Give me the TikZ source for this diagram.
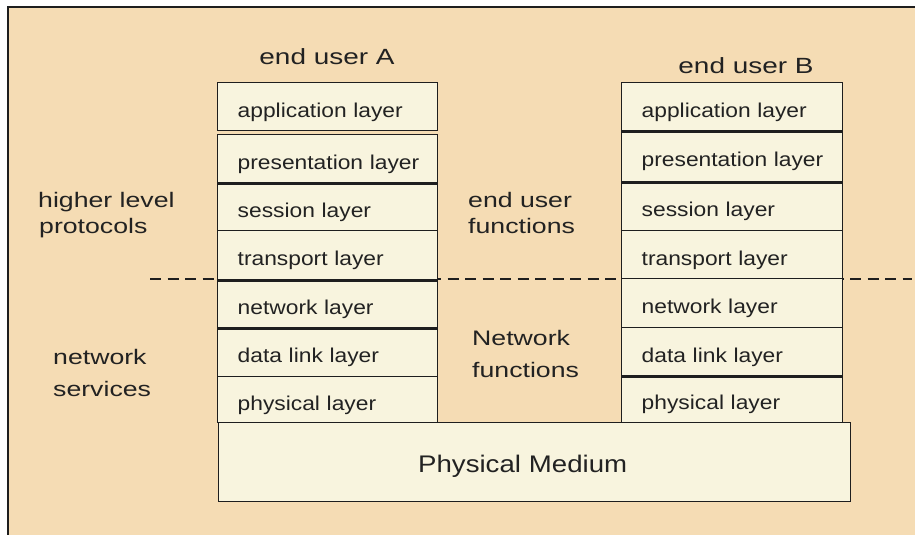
\documentclass[tikz,border=0pt]{standalone}
\usepackage{fontspec}
\setmainfont{Liberation Sans}
\newfontfamily\layerfont{Liberation Sans}[FakeStretch=1.14]
\newfontfamily\labfont{Liberation Sans}[FakeStretch=1.27]
\newfontfamily\medfont{Liberation Sans}[FakeStretch=1.15]
\definecolor{bgc}{HTML}{F5DCB4}
\definecolor{boxc}{HTML}{F8F4DE}
\definecolor{linec}{HTML}{1E1E1E}
\definecolor{txtc}{HTML}{222222}
\begin{document}
\begin{tikzpicture}[x=1pt,y=-1pt,
  layerbox/.style={draw=linec, line width=1.4pt, fill=boxc, anchor=north west,
    inner xsep=8pt, inner ysep=0pt, text width=#1, align=left,
    execute at begin node={\hspace*{12pt}},
    text height=21pt, text depth=0pt, text=txtc,
    font=\layerfont\fontsize{20}{24}\selectfont},
  layerbox/.default=204pt,
  sidelabel/.style={anchor=base west, inner sep=0pt, text=txtc,
    font=\labfont\fontsize{21}{25}\selectfont},
  titlelabel/.style={anchor=base, inner sep=0pt, text=txtc,
    font=\labfont\fontsize{22}{26}\selectfont},
  sepline/.style={draw=linec, line width=2.6pt},
  dashline/.style={draw=linec, line width=1.5pt, dash pattern=on 11pt off 6.5pt}
]
\useasboundingbox (0,0) rectangle (915,535);
\fill[white] (0,0) rectangle (915,535);
\fill[bgc] (8,7) rectangle (915,535);
\draw[linec, line width=2pt] (8,535) -- (8,7) -- (915,7);

% dashed divider
\coordinate (dl) at (150,279);
\coordinate (dr) at (912,279);
\draw[dashline] (dl) -- (dr);

% titles
\node[titlelabel] (tA) at (327,65) {end user A};
\node[titlelabel] (tB) at (746,74) {end user B};

% stack A
\node[layerbox, minimum width=220pt, minimum height=48pt] (a1) at (217,82)  {application layer};
\node[layerbox, minimum width=220pt, minimum height=48pt] (a2) at (217,134) {presentation layer};
\node[layerbox, minimum width=220pt, minimum height=48pt] (a3) at (217,182) {session layer};
\node[layerbox, minimum width=220pt, minimum height=49pt] (a4) at (217,230) {transport layer};
\node[layerbox, minimum width=220pt, minimum height=48pt] (a5) at (217,279) {network layer};
\node[layerbox, minimum width=220pt, minimum height=49pt] (a6) at (217,327) {data link layer};
\node[layerbox, minimum width=220pt, minimum height=46pt] (a7) at (217,376) {physical layer};

% stack B
\node[layerbox=205pt, minimum width=221pt, minimum height=48pt] (b1) at (621,82)  {application layer};
\node[layerbox=205pt, minimum width=221pt, minimum height=51pt] (b2) at (621,130) {presentation layer};
\node[layerbox=205pt, minimum width=221pt, minimum height=49pt] (b3) at (621,181) {session layer};
\node[layerbox=205pt, minimum width=221pt, minimum height=48pt] (b4) at (621,230) {transport layer};
\node[layerbox=205pt, minimum width=221pt, minimum height=49pt] (b5) at (621,278) {network layer};
\node[layerbox=205pt, minimum width=221pt, minimum height=48pt] (b6) at (621,327) {data link layer};
\node[layerbox=205pt, minimum width=221pt, minimum height=47pt] (b7) at (621,375) {physical layer};

% heavier separators as printed
\draw[sepline] (a2.south west) -- (a2.south east);
\draw[sepline] (a4.south west) -- (a4.south east);
\draw[sepline] (a5.south west) -- (a5.south east);
\draw[sepline] (b1.south west) -- (b1.south east);
\draw[sepline] (b2.south west) -- (b2.south east);
\draw[sepline] (b6.south west) -- (b6.south east);

% physical medium
\node[draw=linec, line width=1.4pt, fill=boxc, anchor=north west,
  minimum width=632pt, minimum height=79pt, inner sep=0pt,
  text height=21pt, text depth=0pt, text width=600pt, align=center, text=txtc,
  font=\medfont\fontsize{24}{28}\selectfont] (m) at (218,422) {Physical Medium\hspace*{24pt}};

% side labels
\node[sidelabel] (hl1) at (38,207) {higher level};
\node[sidelabel] (hl2) at (39,233) {protocols};
\node[sidelabel] (ns1) at (53,364) {network};
\node[sidelabel] (ns2) at (53,396) {services};
\node[sidelabel] (ef1) at (468,207) {end user};
\node[sidelabel] (ef2) at (468,233) {functions};
\node[sidelabel] (nf1) at (472,345) {Network};
\node[sidelabel] (nf2) at (472,377) {functions};
\end{tikzpicture}
\end{document}
